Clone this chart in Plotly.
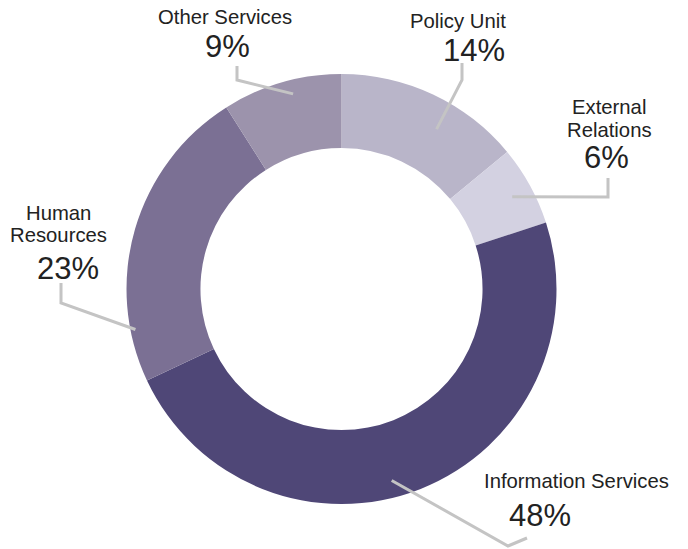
import math
import plotly.graph_objects as go

# Share of staff by unit, clockwise from 12 o'clock
units = ["Policy Unit", "External Relations", "Information Services",
         "Human Resources", "Other Services"]
shares = [14, 6, 48, 23, 9]
name_lines = [["Policy Unit"], ["External", "Relations"], ["Information Services"],
              ["Human", "Resources"], ["Other Services"]]
colors = ["#b9b5c9", "#d3d1e1", "#4f4777", "#7b7094", "#9c93ac"]

W, H = 688, 549
CX, CY, R_OUT = 341.5, 289, 215
HOLE = 0.656

# Leader-line layout per unit: position along the slice (0..1), radius (px),
# elbow point and end point (px)
lead_frac = [0.61, 0.52, 0.54, 0.17, 0.57]
lead_rad = [186, 194, 198, 210, 201]
elbows = [(462, 80), (608, 197), (508, 546), (61, 303), (237, 80)]
ends = [(462, 63), (608, 178), (527, 538), (61, 283), (237, 66)]
# Label placement (px): centre of the name block, its line pitch, the percentage
name_pos = [(458, 21), (609, 118.3), (576, 481), (58, 223.9), (225, 17.5)]
line_pitch = [26, 22.6, 26, 22.6, 26]
pct_pos = [(474, 51), (606, 158), (540, 515), (68, 268), (228, 46)]

FONT = "Liberation Sans, Arial, sans-serif"
NAME_SIZE = 20.3


def px(x, y):
    return x / W, 1 - y / H


fig = go.Figure(go.Pie(
    labels=units, values=shares, sort=False, direction="clockwise",
    rotation=0, hole=HOLE, textinfo="none",
    marker=dict(colors=colors, line=dict(width=0)),
    domain=dict(x=[(CX - R_OUT) / W, (CX + R_OUT) / W],
                y=[1 - (CY + R_OUT) / H, 1 - (CY - R_OUT) / H]),
    showlegend=False,
))

total = sum(shares)
cum = 0
shapes, annotations = [], []
for i, v in enumerate(shares):
    ang = (cum + lead_frac[i] * v) / total * 2 * math.pi
    cum += v
    sx = CX + lead_rad[i] * math.sin(ang)
    sy = CY - lead_rad[i] * math.cos(ang)
    pts = [px(sx, sy), px(*elbows[i]), px(*ends[i])]
    path = "M {} {} L {} {} L {} {}".format(*[c for p in pts for c in p])
    shapes.append(dict(type="path", path=path, xref="paper", yref="paper",
                       line=dict(color="#c4c4c4", width=3)))
    # one annotation per name line, spaced by the line pitch
    lines = name_lines[i]
    cx, cy = name_pos[i]
    for k, t in enumerate(lines):
        ly = cy + (k - (len(lines) - 1) / 2) * line_pitch[i]
        nx, ny = px(cx, ly)
        annotations.append(dict(
            text=t, x=nx, y=ny, xref="paper", yref="paper",
            showarrow=False, xanchor="center", yanchor="middle",
            font=dict(family=FONT, size=NAME_SIZE, color="#222222")))
    qx, qy = px(*pct_pos[i])
    annotations.append(dict(
        text=f"{v}%", x=qx, y=qy, xref="paper", yref="paper",
        showarrow=False, xanchor="center", yanchor="middle",
        font=dict(family=FONT, size=31, color="#222222")))

fig.update_layout(
    width=W, height=H, margin=dict(l=0, r=0, t=0, b=0),
    paper_bgcolor="white", plot_bgcolor="white",
    shapes=shapes, annotations=annotations,
)
fig.write_html("out.html")
